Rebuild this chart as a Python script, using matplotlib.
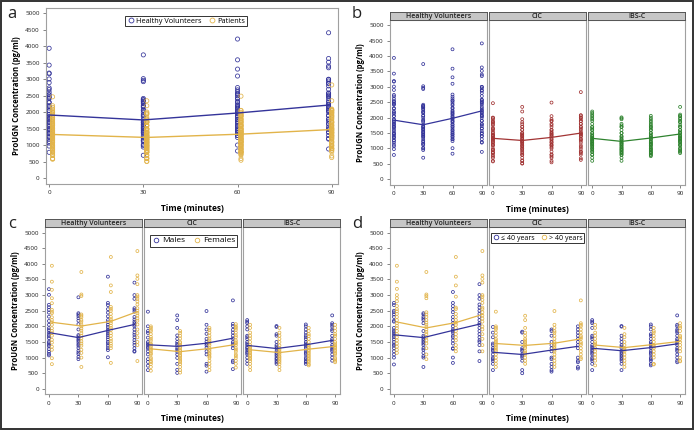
import numpy as np
import matplotlib
matplotlib.use("Agg")
import matplotlib.pyplot as plt
from matplotlib.lines import Line2D
from matplotlib.patches import Rectangle

plt.rcParams['font.family'] = ['Open Sans', 'DejaVu Sans']

W, H = 694, 430
times = [0, 30, 60, 90]
groups = ["Healthy Volunteers", "CIC", "IBS-C"]

# ---- individual values (split by sex) ----
hv_m = [
    [3190, 3010, 2690, 2610, 2530, 2440, 2310, 2170, 2050, 1940, 1880, 1800, 1730, 1680, 1620, 1510, 1460, 1410, 1360, 1270, 1190, 1120, 1070],
    [2930, 2420, 2380, 2330, 2260, 2180, 2070, 1900, 1720, 1680, 1630, 1580, 1540, 1490, 1430, 1380, 1310, 1220, 1160, 1110, 1020, 950],
    [3590, 2750, 2680, 2550, 2440, 2320, 2200, 2130, 2050, 1980, 1900, 1850, 1780, 1720, 1650, 1580, 1500, 1450, 1380, 1300, 1240, 1010],
    [3400, 3000, 2880, 2580, 2530, 2470, 2300, 2220, 2150, 2100, 2050, 2000, 1900, 1800, 1730, 1650, 1560, 1480, 1400, 1300, 1210, 1190],
]
hv_f = [
    [3940, 3430, 3170, 2900, 2740, 2530, 2470, 2420, 2290, 2200, 2130, 2050, 1940, 1850, 1780, 1700, 1570, 1480, 1350, 1250, 980, 790],
    [3740, 3020, 2970, 2380, 2340, 2290, 2200, 2150, 2060, 2000, 1930, 1860, 1780, 1700, 1620, 1520, 1450, 1380, 1250, 1150, 1000, 700],
    [4220, 3310, 3100, 2620, 2560, 2500, 2400, 2300, 2230, 2160, 2100, 2020, 1950, 1880, 1780, 1700, 1600, 1530, 1450, 1380, 1300, 830],
    [4410, 3630, 3520, 3350, 3000, 2950, 2880, 2800, 2700, 2580, 2500, 2420, 2350, 2250, 2180, 2060, 1900, 1780, 1650, 1500, 1400, 890],
]
cic_m = [
    [2470, 2000, 1850, 1790, 1640, 1500, 1450, 1400, 1340, 1290, 1200, 1100, 950, 860, 740, 600],
    [2350, 2200, 1950, 1710, 1600, 1500, 1440, 1390, 1300, 1250, 1190, 1100, 990, 800, 610, 510],
    [2490, 2050, 1900, 1760, 1600, 1510, 1440, 1390, 1310, 1200, 1100, 800, 740, 550],
    [2830, 2080, 2010, 1890, 1800, 1700, 1610, 1500, 1450, 1390, 1300, 900, 850, 630],
]
cic_f = [
    [2000, 1950, 1890, 1840, 1750, 1660, 1600, 1540, 1450, 1410, 1350, 1290, 1250, 1200, 1140, 1100, 1000, 950, 890, 850, 790, 700, 580],
    [1850, 1790, 1700, 1610, 1500, 1460, 1400, 1350, 1300, 1240, 1200, 1150, 1090, 1050, 1000, 940, 900, 850, 790, 700, 600, 520],
    [1950, 1890, 1800, 1700, 1610, 1550, 1490, 1450, 1390, 1300, 1250, 1200, 1140, 1100, 1040, 1000, 900, 800, 700, 600],
    [2070, 2000, 1950, 1890, 1800, 1710, 1650, 1550, 1490, 1450, 1390, 1300, 1250, 1190, 1100, 1050, 990, 900, 800, 680],
]
ibs_m = [
    [2200, 2150, 2100, 2000, 1900, 1700, 1650, 1590, 1500, 1450, 1400, 1340, 1300, 1250, 1190, 1150, 1100, 1000, 900, 800],
    [2010, 1980, 1750, 1700, 1500, 1400, 1350, 1290, 1200, 1150, 1100, 1050, 990, 950, 900, 850, 800],
    [2060, 2000, 1900, 1800, 1710, 1650, 1590, 1500, 1450, 1400, 1350, 1290, 1200, 1150, 1100, 1000, 950, 890, 850, 800],
    [2350, 2100, 2050, 1990, 1900, 1850, 1700, 1600, 1550, 1500, 1400, 1350, 1290, 1250, 1200, 1100, 1000, 900],
]
ibs_f = [
    [2050, 1950, 1800, 1700, 1610, 1500, 1400, 1350, 1290, 1250, 1200, 1150, 1090, 1050, 1000, 950, 890, 800, 700, 600],
    [1950, 1800, 1700, 1600, 1500, 1390, 1300, 1250, 1190, 1150, 1100, 1040, 1000, 950, 900, 850, 790, 700, 600],
    [1950, 1850, 1750, 1690, 1600, 1500, 1400, 1350, 1300, 1240, 1200, 1150, 1100, 1050, 1000, 950, 900, 850, 790, 750],
    [2050, 1950, 1850, 1750, 1700, 1600, 1500, 1450, 1390, 1350, 1300, 1250, 1200, 1140, 1100, 1000, 950, 900, 850],
]

# ---- individual values (split by age) ----
hv_y = [
    [2750, 2680, 2500, 2450, 2380, 2300, 2180, 2150, 1950, 1870, 1820, 1760, 1700, 1650, 1580, 1500, 1420, 1380, 1300, 1200, 1100, 1000, 780],
    [2420, 2380, 2300, 2250, 2200, 2100, 1850, 1700, 1650, 1600, 1550, 1500, 1450, 1400, 1300, 1250, 1150, 1050, 1000, 700],
    [3100, 2750, 2650, 2550, 2450, 2300, 2200, 2100, 2000, 1900, 1850, 1800, 1700, 1650, 1550, 1450, 1300, 1280, 1000, 830],
    [3350, 3000, 2880, 2700, 2600, 2500, 2400, 2300, 2200, 2100, 2050, 1950, 1850, 1750, 1650, 1550, 1500, 1400, 1200, 890],
]
hv_o = [
    [3940, 3430, 3200, 3000, 2900, 2800, 2650, 2550, 2480, 2400, 2300, 2200, 2100, 2020, 1940, 1850, 1750, 1650, 1550, 1450, 1350, 1250, 1150],
    [3740, 3020, 2970, 2900, 2450, 2380, 2300, 2200, 2120, 2050, 1980, 1900, 1820, 1750, 1650, 1550, 1450, 1300, 1100, 950],
    [4220, 3590, 3310, 2950, 2600, 2550, 2400, 2300, 2200, 2120, 2050, 1950, 1850, 1750, 1650, 1550, 1400, 1300, 1200],
    [4410, 3630, 3520, 3400, 3000, 2950, 2850, 2750, 2600, 2550, 2450, 2350, 2250, 2150, 2000, 1900, 1750, 1600, 1400, 1200],
]
cic_y = [
    [1980, 1800, 1650, 1450, 1400, 1300, 1250, 1200, 1100, 1000, 950, 900, 800, 600],
    [1830, 1800, 1500, 1300, 1250, 1200, 1100, 1050, 1000, 900, 600, 500],
    [1900, 1850, 1700, 1500, 1400, 1300, 1200, 1000, 950, 800, 700, 600, 550],
    [2000, 1900, 1800, 1700, 1600, 1500, 1400, 1300, 1000, 900, 850, 700, 650],
]
cic_o = [
    [2470, 2000, 1950, 1900, 1800, 1700, 1600, 1550, 1500, 1450, 1400, 1350, 1300, 1250, 1200, 1100, 1000, 900, 800, 700],
    [2340, 2200, 1950, 1800, 1700, 1600, 1550, 1500, 1450, 1400, 1350, 1300, 1200, 1150, 1100, 1000, 900, 800],
    [2490, 2050, 1950, 1850, 1800, 1700, 1600, 1500, 1450, 1400, 1350, 1300, 1250, 1200, 1100, 1000, 900, 800, 700],
    [2830, 2100, 2050, 2000, 1900, 1800, 1700, 1650, 1600, 1500, 1450, 1400, 1300, 1200, 1100, 1000, 950],
]
ibs_y = [
    [2200, 2150, 2100, 1950, 1700, 1650, 1600, 1500, 1400, 1350, 1300, 1250, 1200, 1150, 1100, 1000, 950, 900, 800, 600],
    [2010, 1990, 1700, 1600, 1500, 1400, 1350, 1300, 1200, 1150, 1100, 1050, 1000, 950, 900, 800, 600],
    [2060, 2000, 1900, 1750, 1700, 1600, 1500, 1450, 1400, 1350, 1300, 1200, 1150, 1100, 1000, 950, 900, 800, 750],
    [2350, 2050, 2000, 1900, 1850, 1800, 1700, 1600, 1550, 1500, 1450, 1400, 1300, 1250, 1200, 1100, 1000, 900, 850],
]
ibs_o = [
    [2050, 1950, 1800, 1700, 1600, 1500, 1450, 1400, 1300, 1200, 1100, 1000, 900, 750],
    [1950, 1750, 1650, 1500, 1400, 1300, 1250, 1200, 1100, 1000, 900, 800, 700],
    [1950, 1850, 1800, 1700, 1600, 1500, 1400, 1350, 1300, 1200, 1100, 1000, 800, 780],
    [2100, 2000, 1950, 1850, 1700, 1650, 1600, 1500, 1400, 1300, 1200, 1000, 900, 880],
]

# ---- mean lines ----
mean_hv = [1920, 1770, 1980, 2220]
mean_pat = [1330, 1240, 1340, 1480]
mean_cic = [1330, 1260, 1360, 1500]
mean_ibs = [1330, 1230, 1340, 1470]
mean_sex = {"Healthy Volunteers": ([1800, 1640, 1870, 2060], [2130, 2010, 2160, 2470]),
            "CIC": ([1410, 1360, 1460, 1620], [1280, 1190, 1290, 1420]),
            "IBS-C": ([1390, 1290, 1410, 1550], [1250, 1160, 1270, 1360])}
mean_age = {"Healthy Volunteers": ([1730, 1640, 1870, 2070], [2140, 1950, 2120, 2380]),
            "CIC": ([1170, 1100, 1240, 1360], [1450, 1390, 1460, 1600]),
            "IBS-C": ([1300, 1220, 1320, 1440], [1400, 1320, 1420, 1520])}

sex_pts = {"Healthy Volunteers": (hv_m, hv_f), "CIC": (cic_m, cic_f), "IBS-C": (ibs_m, ibs_f)}
age_pts = {"Healthy Volunteers": (hv_y, hv_o), "CIC": (cic_y, cic_o), "IBS-C": (ibs_y, ibs_o)}
hv_all = [a + b for a, b in zip(hv_m, hv_f)]
cic_all = [a + b for a, b in zip(cic_m, cic_f)]
ibs_all = [a + b for a, b in zip(ibs_m, ibs_f)]
pat_all = [a + b for a, b in zip(cic_all, ibs_all)]

BLUE = '#34349a'
GOLD = '#e2b44a'
RED = '#a23434'
GREEN = '#2f832f'
SPINE = '#a0a0a0'

fig = plt.figure(figsize=(W / 100, H / 100), dpi=100)


def rect(l, t, r, b):
    return [l / W, 1 - b / H, (r - l) / W, (b - t) / H]


def style_axes(ax, xlim, ylim, show_y):
    ax.set_xlim(*xlim)
    ax.set_ylim(*ylim)
    ax.set_xticks(times)
    ax.set_yticks(np.arange(0, 5001, 500))
    ax.tick_params(labelsize=4.5, length=2.5, width=0.5, color='#555555', pad=2, labelcolor='#222222')
    if not show_y:
        ax.tick_params(axis='y', left=False, labelleft=False)
    for s in ax.spines.values():
        s.set_color(SPINE)
        s.set_linewidth(0.8)


def draw_group(ax, pts, means, xoff, color, ms, lw):
    xs = []
    for i, t in enumerate(times):
        x = t + xoff[i]
        xs.append(x)
        ax.scatter([x] * len(pts[i]), pts[i], s=ms, facecolors='none', edgecolors=color,
                   linewidths=0.55, zorder=2)
    ax.plot(xs, means, color=color, lw=lw, zorder=3)


def strip(ax, label):
    bb = ax.get_position()
    sh = 8.5 / H
    sax = fig.add_axes([bb.x0, bb.y1, bb.width, sh])
    sax.set_xticks([]); sax.set_yticks([])
    sax.set_facecolor('#c6c6c6')
    for s in sax.spines.values():
        s.set_color('#555555'); s.set_linewidth(0.7)
    sax.text(0.5, 0.45, label, ha='center', va='center', fontsize=5, color='#222222',
             fontweight='semibold', transform=sax.transAxes)


def legend(labels, center, fs, ms):
    handles = [Line2D([], [], ls='none', marker='o', mfc='none', mec=c, ms=ms, mew=0.6)
               for c in (BLUE, GOLD)]
    fig.legend(handles, labels, loc='center', bbox_to_anchor=center, ncol=2, fontsize=fs,
               frameon=True, fancybox=False, edgecolor='#333333', framealpha=1,
               handletextpad=0.2, columnspacing=0.9, borderpad=0.25, handlelength=1.0,
               borderaxespad=0).get_frame().set_linewidth(0.7)


# ---------------- panel a ----------------
ax = fig.add_axes(rect(46, 8, 338, 184))
style_axes(ax, (-1, 92), (-170, 5160), True)
draw_group(ax, hv_all, mean_hv, [0, 0, 0, -1.0], BLUE, 9, 1.0)
draw_group(ax, pat_all, mean_pat, [1.1, 1.1, 1.1, 0], GOLD, 9, 1.0)
ax.set_ylabel('ProUGN Concentration (pg/ml)', fontsize=5.6, fontweight='bold', labelpad=3)
ax.set_xlabel('Time (minutes)', fontsize=6, fontweight='bold', labelpad=6)
legend(['Healthy Volunteers', 'Patients'], (186 / W, 1 - 21 / H), 5.3, 3.5)

# ---------------- panel b ----------------
b_lefts = [390, 489, 588.3]
b_rights = [486.7, 585.7, 685]
b_data = [(hv_all, mean_hv, BLUE), (cic_all, mean_cic, RED), (ibs_all, mean_ibs, GREEN)]
for k in range(3):
    axb = fig.add_axes(rect(b_lefts[k], 20, b_rights[k], 185))
    style_axes(axb, (-4, 95), (-185, 5170), k == 0)
    pts, m, c = b_data[k]
    draw_group(axb, pts, m, [0, 0, 0, 0], c, 4.5, 0.9)
    strip(axb, groups[k])
    if k == 0:
        axb.set_ylabel('ProUGN Concentration (pg/ml)', fontsize=5.6, fontweight='bold', labelpad=3)
    if k == 1:
        axb.set_xlabel('Time (minutes)', fontsize=6, fontweight='bold', labelpad=6)

# ---------------- panels c and d ----------------
for (xshift, pts_map, mean_map, leg_labels, leg_center, leg_fs) in [
        (0, sex_pts, mean_sex, ['Males', 'Females'], (193.5 / W, 1 - 240.5 / H), 6.0),
        (345, age_pts, mean_age, ['\u2264 40 years', '> 40 years'], (537.5 / W, 1 - 238 / H), 5.0)]:
    lefts = [45 + xshift, 144 + xshift, 243.3 + xshift]
    rights = [142.3 + xshift, 240.7 + xshift, 340 + xshift]
    for k, g in enumerate(groups):
        axc = fig.add_axes(rect(lefts[k], 227.3, rights[k], 394.3))
        style_axes(axc, (-4, 95), (-175, 5170), k == 0)
        lo, hi = pts_map[g]
        mlo, mhi = mean_map[g]
        draw_group(axc, lo, mlo, [0, 0, 0, -3], BLUE, 4.5, 0.9)
        draw_group(axc, hi, mhi, [3, 3, 3, 0], GOLD, 4.5, 0.9)
        strip(axc, g)
        if k == 0:
            axc.set_ylabel('ProUGN Concentration (pg/ml)', fontsize=5.6, fontweight='bold', labelpad=3)
        if k == 1:
            axc.set_xlabel('Time (minutes)', fontsize=6, fontweight='bold', labelpad=6)
    legend(leg_labels, leg_center, leg_fs, 3.3)

# panel letters
for letter, (x, y) in zip('abcd', [(12, 14), (357, 14), (12, 224), (357, 224)]):
    fig.text(x / W, 1 - y / H, letter, fontsize=12, ha='center', va='center', color='#222222')

# outer frame
fig.patches.append(Rectangle((0.001, 0.002), 0.997, 0.996, transform=fig.transFigure,
                             fill=False, edgecolor='#333333', linewidth=1.4))

fig.savefig('out.png', dpi=100)
